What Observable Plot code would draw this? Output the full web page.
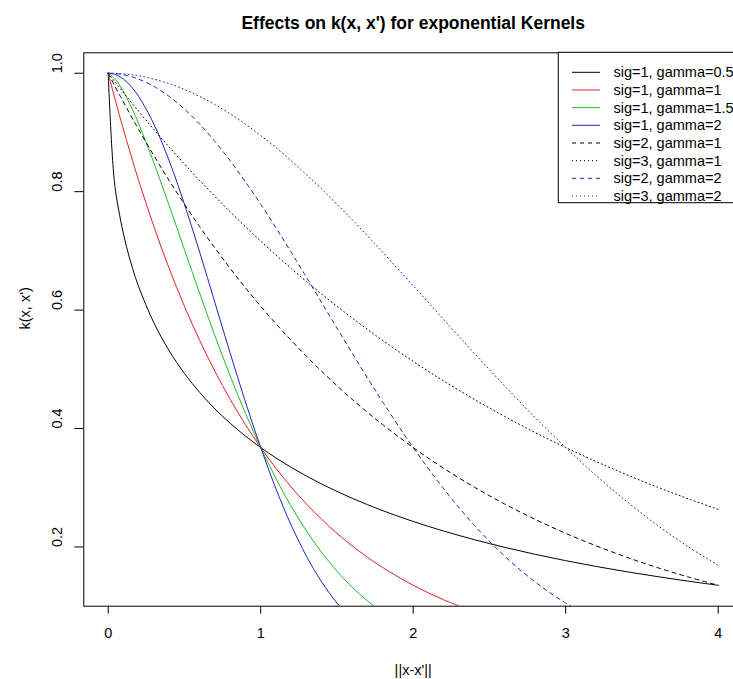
<!DOCTYPE html>
<html>
<head>
<meta charset="utf-8">
<script src="https://cdn.jsdelivr.net/npm/d3@7"></script>
<script src="https://cdn.jsdelivr.net/npm/@observablehq/plot@0.6"></script>
<style>
  html, body { margin: 0; padding: 0; background: #fff; overflow: hidden; }
  #chart { width: 733px; height: 679px; overflow: hidden; }
  #chart svg { max-width: none !important; display: block; }
</style>
</head>
<body>
<div id="chart"></div>
<script>
// distance ||x-x'|| sample positions
const xs = [0, 0.04, 0.08, 0.12, 0.16, 0.2, 0.3, 0.4, 0.5, 0.6, 0.7, 0.8, 0.9, 1.0, 1.1, 1.2, 1.3, 1.4, 1.5, 1.6, 1.7, 1.8, 2.0, 2.2, 2.4, 2.6, 2.8, 3.0, 3.2, 3.4, 3.6, 3.8, 4.0];

// k(x, x') values read for each curve
const s1g05 = [1, 0.8187, 0.7537, 0.7072, 0.6703, 0.6394, 0.5783, 0.5313, 0.4931, 0.4609, 0.4331, 0.4089, 0.3873, 0.3679, 0.3504, 0.3344, 0.3198, 0.3063, 0.2939, 0.2822, 0.2715, 0.2614, 0.2431, 0.2269, 0.2124, 0.1994, 0.1876, 0.1769, 0.1671, 0.1582, 0.1500, 0.1424, 0.1353];
const s1g1 = [1, 0.9608, 0.9231, 0.8869, 0.8521, 0.8187, 0.7408, 0.6703, 0.6065, 0.5488, 0.4966, 0.4493, 0.4066, 0.3679, 0.3329, 0.3012, 0.2725, 0.2466, 0.2231, 0.2019, 0.1827, 0.1653, 0.1353, 0.1108, 0.0907];
const s1g15 = [1, 0.9920, 0.9776, 0.9593, 0.9380, 0.9144, 0.8485, 0.7765, 0.7022, 0.6283, 0.5567, 0.4889, 0.4258, 0.3679, 0.3155, 0.2686, 0.2271, 0.1908, 0.1592, 0.1321, 0.1090, 0.0894];
const s1g2 = [1, 0.9984, 0.9936, 0.9857, 0.9747, 0.9608, 0.9139, 0.8521, 0.7788, 0.6977, 0.6126, 0.5273, 0.4449, 0.3679, 0.2982, 0.2369, 0.1845, 0.1409, 0.1054, 0.0773];
const s2g1 = [1, 0.9802, 0.9608, 0.9418, 0.9231, 0.9048, 0.8607, 0.8187, 0.7788, 0.7408, 0.7047, 0.6703, 0.6376, 0.6065, 0.5769, 0.5488, 0.5220, 0.4966, 0.4724, 0.4493, 0.4274, 0.4066, 0.3679, 0.3329, 0.3012, 0.2725, 0.2466, 0.2231, 0.2019, 0.1827, 0.1653, 0.1496, 0.1353];
const s3g1 = [1, 0.9868, 0.9737, 0.9608, 0.9481, 0.9355, 0.9048, 0.8752, 0.8465, 0.8187, 0.7919, 0.7659, 0.7408, 0.7165, 0.6930, 0.6703, 0.6483, 0.6271, 0.6065, 0.5866, 0.5674, 0.5488, 0.5134, 0.4803, 0.4493, 0.4204, 0.3932, 0.3679, 0.3442, 0.3220, 0.3012, 0.2818, 0.2636];
const s2g2 = [1, 0.9996, 0.9984, 0.9964, 0.9936, 0.9900, 0.9778, 0.9608, 0.9394, 0.9139, 0.8847, 0.8521, 0.8167, 0.7788, 0.7390, 0.6977, 0.6554, 0.6126, 0.5698, 0.5273, 0.4855, 0.4449, 0.3679, 0.2982, 0.2369, 0.1845, 0.1409, 0.1054, 0.0773];
const s3g2 = [1, 0.9998, 0.9993, 0.9984, 0.9972, 0.9956, 0.9900, 0.9824, 0.9726, 0.9608, 0.9470, 0.9314, 0.9139, 0.8948, 0.8742, 0.8521, 0.8288, 0.8043, 0.7788, 0.7525, 0.7254, 0.6977, 0.6412, 0.5841, 0.5273, 0.4719, 0.4185, 0.3679, 0.3205, 0.2768, 0.2369, 0.2010, 0.1690];

const seriesNames = ["sig=1, gamma=0.5", "sig=1, gamma=1", "sig=1, gamma=1.5", "sig=1, gamma=2",
                     "sig=2, gamma=1", "sig=3, gamma=1", "sig=2, gamma=2", "sig=3, gamma=2"];
const seriesValues = [s1g05, s1g1, s1g15, s1g2, s2g1, s3g1, s2g2, s3g2];

const xTicks = [0, 1, 2, 3, 4];
const yTicks = [0.2, 0.4, 0.6, 0.8, 1.0];

const titleText = "Effects on k(x, x') for exponential Kernels";
const xLabel = "||x-x'||";
const yLabel = "k(x, x')";

// styles (kept separate from the data)
const colors = ["#000000", "#DD2222", "#22BB22", "#2222BB", "#000000", "#000000", "#2222BB", "#2222BB"];
const dashes = ["none", "none", "none", "none", "4,4", "1,3", "4,4", "1,3"];

const FONT = "'Liberation Sans', Arial, Helvetica, sans-serif";
const W = 760, H = 679;
const mL = 83.3, mR = W - 742.1, mT = 52.3, mB = H - 605.7;

const rows = seriesNames.map((name, s) =>
  seriesValues[s].map((y, i) => ({ name, x: xs[i], y })));

const lineMarks = rows.map((data, s) =>
  Plot.line(data, {
    x: "x", y: "y", stroke: colors[s], strokeWidth: 1,
    strokeDasharray: dashes[s], curve: "catmull-rom", clip: true
  }));

const figure = Plot.plot({
  width: W, height: H,
  marginLeft: mL, marginRight: mR, marginTop: mT, marginBottom: mB,
  style: { fontFamily: FONT, fontSize: "14.5px", color: "#000", background: "#fff", maxWidth: "none" },
  x: { domain: [-0.16, 4.16] },
  y: { domain: [0.1, 1.0345] },
  marks: [
    ...lineMarks,
    Plot.frame({ stroke: "#000", strokeWidth: 1 }),
    Plot.axisX({ ticks: xTicks, tickSize: 8, tickFormat: () => "", label: null, stroke: "#000" }),
    Plot.axisY({ ticks: yTicks, tickSize: 9, tickFormat: () => "", label: null, stroke: "#000" }),
    Plot.text(xTicks, { x: d => d, frameAnchor: "bottom", dy: 27.5, text: d => String(d), lineAnchor: "middle", fontSize: 14.5, fill: "#000" }),
    Plot.text(yTicks, { y: d => d, frameAnchor: "left", dx: -26, rotate: -90, text: d => d.toFixed(1), lineAnchor: "middle", fontSize: 14.5, fill: "#000" }),
    Plot.text([xLabel], { frameAnchor: "bottom", dy: 64.5, text: d => d, lineAnchor: "middle", fontSize: 14.5, fill: "#000" }),
    Plot.text([yLabel], { frameAnchor: "left", dx: -58.5, rotate: -90, text: d => d, lineAnchor: "middle", fontSize: 14.5, fill: "#000" }),
    Plot.text([titleText], { frameAnchor: "top", dy: -29.5, text: d => d, lineAnchor: "middle", fontSize: 17.5, fontWeight: "bold", fill: "#000" })
  ]
});

document.getElementById("chart").append(figure);

// legend box (top right, inside the plot frame)
const svg = d3.select(figure);
const lg = svg.append("g").attr("font-family", FONT).attr("font-size", 14.5).attr("text-anchor", "start");
const lgX = 558.3, lgY = mT, lgW = 742.1 - 558.3, lgH = 150.4, rowH = 17.67, row0 = 72.3;
lg.append("rect").attr("x", lgX).attr("y", lgY).attr("width", lgW).attr("height", lgH)
  .attr("fill", "#fff").attr("stroke", "#000").attr("stroke-width", 1);
seriesNames.forEach((name, i) => {
  const cy = row0 + i * rowH;
  lg.append("line").attr("x1", 572).attr("x2", 600).attr("y1", cy).attr("y2", cy)
    .attr("stroke", colors[i]).attr("stroke-width", 1)
    .attr("stroke-dasharray", dashes[i] === "none" ? null : dashes[i]);
  lg.append("text").attr("x", 613.5).attr("y", cy).attr("dy", "0.35em")
    .attr("text-anchor", "start").attr("fill", "#000").text(name);
});
</script>
</body>
</html>
